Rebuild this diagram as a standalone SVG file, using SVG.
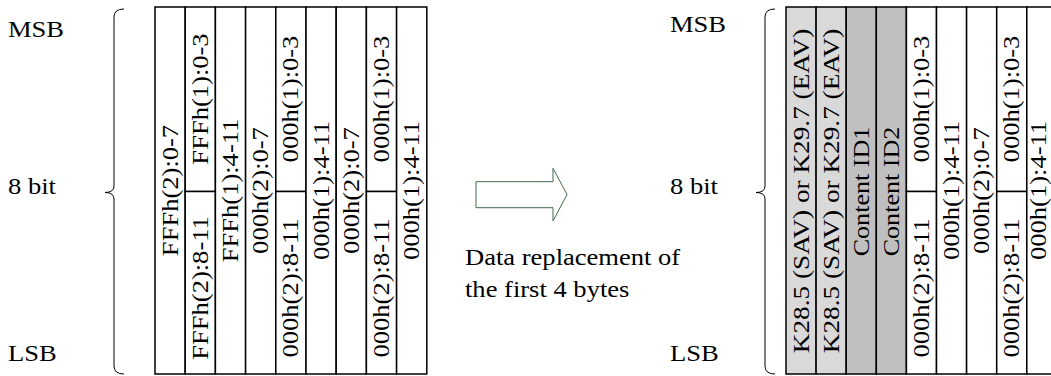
<svg xmlns="http://www.w3.org/2000/svg" width="1051" height="376" viewBox="0 0 1051 376">
<style>
.t{font-family:"Liberation Serif","Times New Roman",serif;font-size:23.5px;fill:#000}
.v{text-anchor:middle}
.c{fill:#fff;stroke:#000;stroke-width:1.5}
.g1{fill:#d9d9d9;stroke:#000;stroke-width:1.5}
.g2{fill:#c0c0c0;stroke:#000;stroke-width:1.5}
.br{fill:none;stroke:#000;stroke-width:1}
</style>
<rect width="1051" height="376" fill="#fff"/>

<g id="left-labels">
<text class="t" transform="translate(8,37) scale(1.13,1)">MSB</text>
<text class="t" transform="translate(8,194) scale(1.13,1)">8 bit</text>
<text class="t" transform="translate(8,361) scale(1.13,1)">LSB</text>
</g>
<g id="left-brace">
<path class="br" d="M124,9 Q114,9 114,17 L114,186 Q114,192.5 105,192.5 Q114,192.5 114,199 L114,366 Q114,374 124,374"/>
</g>

<g id="left-table">
<g id="L1"><rect class="c" x="155" y="7" width="30.2" height="367"/>
<text class="t v" transform="translate(177.5,190.5) rotate(-90) scale(1.13,1)">FFFh(2):0-7</text></g>
<g id="L2"><rect class="c" x="185.2" y="7" width="30.2" height="184.5"/><rect class="c" x="185.2" y="191.5" width="30.2" height="182.5"/>
<text class="t v" transform="translate(207.7,99) rotate(-90) scale(1.13,1)">FFFh(1):0-3</text>
<text class="t v" transform="translate(207.7,288) rotate(-90) scale(1.13,1)">FFFh(2):8-11</text></g>
<g id="L3"><rect class="c" x="215.4" y="7" width="30.2" height="367"/>
<text class="t v" transform="translate(237.9,190.5) rotate(-90) scale(1.13,1)">FFFh(1):4-11</text></g>
<g id="L4"><rect class="c" x="245.6" y="7" width="30.2" height="367"/>
<text class="t v" transform="translate(268.1,190.5) rotate(-90) scale(1.13,1)">000h(2):0-7</text></g>
<g id="L5"><rect class="c" x="275.8" y="7" width="30.2" height="184.5"/><rect class="c" x="275.8" y="191.5" width="30.2" height="182.5"/>
<text class="t v" transform="translate(298.3,99) rotate(-90) scale(1.13,1)">000h(1):0-3</text>
<text class="t v" transform="translate(298.3,288) rotate(-90) scale(1.13,1)">000h(2):8-11</text></g>
<g id="L6"><rect class="c" x="306" y="7" width="30.2" height="367"/>
<text class="t v" transform="translate(328.5,190.5) rotate(-90) scale(1.13,1)">000h(1):4-11</text></g>
<g id="L7"><rect class="c" x="336.2" y="7" width="30.2" height="367"/>
<text class="t v" transform="translate(358.7,190.5) rotate(-90) scale(1.13,1)">000h(2):0-7</text></g>
<g id="L8"><rect class="c" x="366.4" y="7" width="30.2" height="184.5"/><rect class="c" x="366.4" y="191.5" width="30.2" height="182.5"/>
<text class="t v" transform="translate(388.9,99) rotate(-90) scale(1.13,1)">000h(1):0-3</text>
<text class="t v" transform="translate(388.9,288) rotate(-90) scale(1.13,1)">000h(2):8-11</text></g>
<g id="L9"><rect class="c" x="396.6" y="7" width="30.2" height="367"/>
<text class="t v" transform="translate(419.1,190.5) rotate(-90) scale(1.13,1)">000h(1):4-11</text></g>
</g>

<g id="connectors">
<polygon points="476,181.7 553,181.7 553,168.3 567,194.5 553,221 553,207.7 476,207.7" fill="#fff" stroke="#3f6a4a" stroke-width="1"/>
</g>
<g id="caption">
<text class="t" transform="translate(465,265) scale(1.13,1)">Data replacement of</text>
<text class="t" transform="translate(465,297) scale(1.13,1)">the first 4 bytes</text>
</g>

<g id="right-labels">
<text class="t" transform="translate(670,32) scale(1.13,1)">MSB</text>
<text class="t" transform="translate(670,194) scale(1.13,1)">8 bit</text>
<text class="t" transform="translate(670,361) scale(1.13,1)">LSB</text>
</g>
<g id="right-brace">
<path class="br" d="M775,9 Q765,9 765,17 L765,186 Q765,192.5 756,192.5 Q765,192.5 765,199 L765,366 Q765,374 775,374"/>
</g>

<g id="right-table">
<g id="R1"><rect class="g1" x="786" y="7" width="30.1" height="367"/>
<text class="t v" transform="translate(808.5,191) rotate(-90) scale(1.16,1)">K28.5 (SAV) or K29.7 (EAV)</text></g>
<g id="R2"><rect class="g1" x="816.1" y="7" width="30.1" height="367"/>
<text class="t v" transform="translate(838.6,191) rotate(-90) scale(1.16,1)">K28.5 (SAV) or K29.7 (EAV)</text></g>
<g id="R3"><rect class="g2" x="846.2" y="7" width="30.1" height="367"/>
<text class="t v" transform="translate(868.7,191.5) rotate(-90) scale(1.11,1)">Content ID1</text></g>
<g id="R4"><rect class="g2" x="876.3" y="7" width="30.1" height="367"/>
<text class="t v" transform="translate(898.8,191.5) rotate(-90) scale(1.11,1)">Content ID2</text></g>
<g id="R5"><rect class="c" x="906.4" y="7" width="30.1" height="184.5"/><rect class="c" x="906.4" y="191.5" width="30.1" height="182.5"/>
<text class="t v" transform="translate(928.9,99) rotate(-90) scale(1.13,1)">000h(1):0-3</text>
<text class="t v" transform="translate(928.9,288) rotate(-90) scale(1.13,1)">000h(2):8-11</text></g>
<g id="R6"><rect class="c" x="936.5" y="7" width="30.1" height="367"/>
<text class="t v" transform="translate(959,190.5) rotate(-90) scale(1.13,1)">000h(1):4-11</text></g>
<g id="R7"><rect class="c" x="966.6" y="7" width="30.1" height="367"/>
<text class="t v" transform="translate(989.1,190.5) rotate(-90) scale(1.13,1)">000h(2):0-7</text></g>
<g id="R8"><rect class="c" x="996.7" y="7" width="30.1" height="184.5"/><rect class="c" x="996.7" y="191.5" width="30.1" height="182.5"/>
<text class="t v" transform="translate(1019.2,99) rotate(-90) scale(1.13,1)">000h(1):0-3</text>
<text class="t v" transform="translate(1019.2,288) rotate(-90) scale(1.13,1)">000h(2):8-11</text></g>
<g id="R9"><rect class="c" x="1026.8" y="7" width="30.1" height="367"/>
<text class="t v" transform="translate(1046,190.5) rotate(-90) scale(1.13,1)">000h(1):4-11</text></g>
</g>
</svg>
